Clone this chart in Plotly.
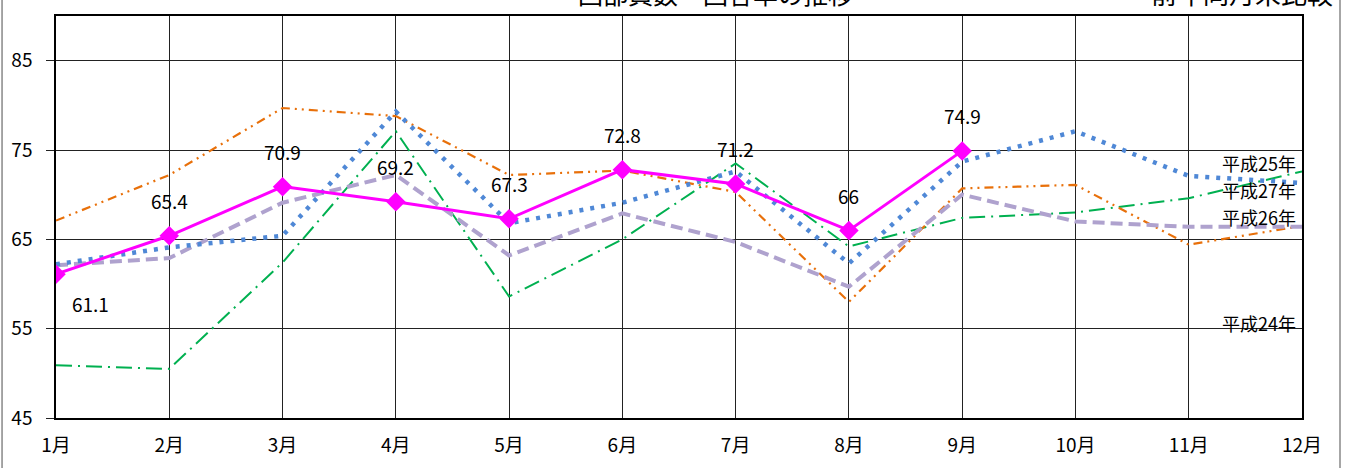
import plotly.graph_objects as go

months = ['1月', '2月', '3月', '4月', '5月', '6月', '7月', '8月', '9月', '10月', '11月', '12月']

# 各年の月別推移
h24 = [50.9, 50.5, 62.4, 77.1, 58.6, 65.0, 73.5, 64.2, 67.4, 68.0, 69.6, 72.6]
h25 = [67.1, 72.2, 79.7, 78.8, 72.2, 72.7, 70.3, 58.0, 70.7, 71.1, 64.4, 66.5]
h26 = [62.2, 64.1, 65.4, 79.3, 66.8, 69.1, 72.6, 62.3, 73.7, 77.1, 72.1, 71.3]
h27 = [62.1, 62.9, 69.1, 72.2, 63.2, 67.9, 64.7, 59.7, 70.0, 67.0, 66.4, 66.4]
current = [61.1, 65.4, 70.9, 69.2, 67.3, 72.8, 71.2, 66, 74.9]

# 右端の系列名ラベル
end_labels = ['平成25年', '平成27年', '平成26年', '平成24年']
end_label_y = [73.6, 70.5, 67.5, 55.6]

JP_FONT = 'Noto Sans CJK JP, Noto Sans, sans-serif'

fig = go.Figure()

fig.add_trace(go.Scatter(
    x=months, y=h24, mode='lines', name='平成24年',
    line=dict(color='#00B050', width=2, dash='16px,6px,2px,6px')
))
fig.add_trace(go.Scatter(
    x=months, y=h25, mode='lines', name='平成25年',
    line=dict(color='#E8700A', width=2.2, dash='9px,5px,2px,5px,2px,5px')
))
fig.add_trace(go.Scatter(
    x=months, y=h27, mode='lines', name='平成27年',
    line=dict(color='#AFA2CE', width=4, dash='12px,6px')
))
fig.add_trace(go.Scatter(
    x=months, y=h26, mode='lines', name='平成26年',
    line=dict(color='#4F88D6', width=4.5, dash='4px,7px'),
))
fig.add_trace(go.Scatter(
    x=months[:len(current)], y=current, mode='lines+markers', name='平成28年',
    line=dict(color='#FF00FF', width=3),
    marker=dict(symbol='diamond', size=15, color='#FF00FF')
))

# データラベル
for i, v in enumerate(current):
    first = i == 0
    fig.add_annotation(
        x=months[i], y=v, text=f'{v:g}', showarrow=False,
        xshift=34 if first else 0, yshift=-29 if first else 35,
        font=dict(family=JP_FONT, size=19, color='#000')
    )

for name, yv in zip(end_labels, end_label_y):
    fig.add_annotation(
        x=10.62, y=yv, text=name, showarrow=False, xanchor='center',
        font=dict(family=JP_FONT, size=18, color='#000')
    )

# 上部で切れているタイトル
fig.add_annotation(
    x=0.529, y=1, xref='paper', yref='paper', yanchor='bottom', yshift=3,
    text='回部員数・回答率の推移', showarrow=False,
    font=dict(family=JP_FONT, size=25, color='#000')
)
fig.add_annotation(
    x=1.0265, y=1, xref='paper', yref='paper', xanchor='right', yanchor='bottom', yshift=3,
    text='前年同月末比較', showarrow=False,
    font=dict(family=JP_FONT, size=26, color='#000')
)

# 外枠
for xx in (-0.0433, 1.0305):
    fig.add_shape(type='line', xref='paper', yref='paper', x0=xx, x1=xx, y0=-0.2, y1=1.1,
                  line=dict(color='#888', width=1.5))

fig.update_xaxes(
    type='category', range=[0, 11], showgrid=True, gridcolor='#222', gridwidth=1,
    showline=True, linecolor='#000', linewidth=1.5, mirror=True, ticks='',
    ticklabelstandoff=9,
    tickfont=dict(family=JP_FONT, size=19, color='#000')
)
fig.update_yaxes(
    range=[45, 90], tickvals=[45, 55, 65, 75, 85], showgrid=True, gridcolor='#222', gridwidth=1,
    showline=True, linecolor='#000', linewidth=1.5, mirror=True,
    ticks='outside', ticklen=8, tickcolor='#222', ticklabelstandoff=10, zeroline=False,
    tickfont=dict(family=JP_FONT, size=19, color='#000')
)

fig.update_layout(
    width=1345, height=468,
    margin=dict(l=56, r=43, t=16, b=50),
    plot_bgcolor='white', paper_bgcolor='white',
    showlegend=False,
)

fig.write_html('out.html', config={'displayModeBar': False},
               post_script="document.body.style.margin='0';")
